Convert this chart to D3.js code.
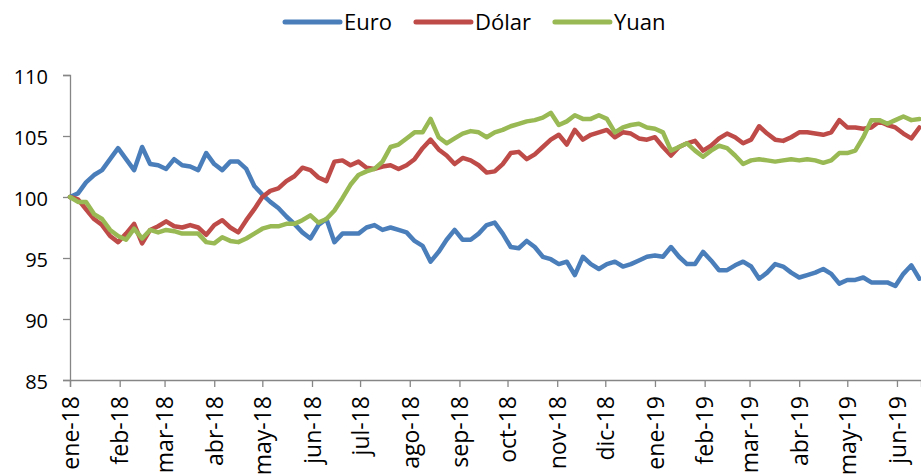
<!DOCTYPE html>
<meta charset="utf-8">
<head>
<script src="https://d3js.org/d3.v7.min.js"></script>
<style>
  body { margin: 0; background: #fff; }
  text { font-family: "Open Sans", "DejaVu Sans", sans-serif; fill: #000; }
</style>
</head>
<body>
<svg id="chart" width="921" height="474"></svg>
<script>

// series names and colours
var seriesNames = ["Euro", "Dólar", "Yuan"];
var seriesColors = ["#4a7ebb", "#be4b48", "#98b954"];

// one reading every 5 days starting 1 Jan 2018
var startDate = new Date(2018, 0, 1);
var stepDays = 5;

var euro = [
  100.0, 100.3, 101.2, 101.8, 102.2, 103.1, 104.0, 103.1, 102.2, 104.1,
  102.7, 102.6, 102.3, 103.1, 102.6, 102.5, 102.2, 103.6, 102.7, 102.2,
  102.9, 102.9, 102.3, 100.9, 100.2, 99.6, 99.1, 98.4, 97.8, 97.1,
  96.6, 97.7, 98.2, 96.3, 97.0, 97.0, 97.0, 97.5, 97.7, 97.3,
  97.5, 97.3, 97.1, 96.4, 96.0, 94.7, 95.5, 96.5, 97.3, 96.5,
  96.5, 97.0, 97.7, 97.9, 97.0, 95.9, 95.8, 96.4, 95.9, 95.1,
  94.9, 94.5, 94.7, 93.6, 95.1, 94.5, 94.1, 94.5, 94.7, 94.3,
  94.5, 94.8, 95.1, 95.2, 95.1, 95.9, 95.1, 94.5, 94.5, 95.5,
  94.8, 94.0, 94.0, 94.4, 94.7, 94.3, 93.3, 93.8, 94.5, 94.3,
  93.8, 93.4, 93.6, 93.8, 94.1, 93.7, 92.9, 93.2, 93.2, 93.4,
  93.0, 93.0, 93.0, 92.7, 93.7, 94.4, 93.3
];

var dolar = [
  100.0, 99.8, 99.0, 98.2, 97.7, 96.8, 96.3, 97.0, 97.8, 96.2,
  97.3, 97.6, 98.0, 97.6, 97.5, 97.7, 97.5, 96.9, 97.7, 98.1,
  97.5, 97.1, 98.1, 99.0, 100.0, 100.5, 100.7, 101.3, 101.7, 102.4,
  102.2, 101.6, 101.3, 102.9, 103.0, 102.6, 102.9, 102.4, 102.3, 102.5,
  102.6, 102.3, 102.6, 103.1, 104.0, 104.7, 103.9, 103.4, 102.7, 103.2,
  103.0, 102.6, 102.0, 102.1, 102.7, 103.6, 103.7, 103.1, 103.5, 104.1,
  104.7, 105.1, 104.3, 105.5, 104.7, 105.1, 105.3, 105.5, 104.9, 105.3,
  105.2, 104.8, 104.7, 104.9, 104.1, 103.4, 104.1, 104.4, 104.6, 103.8,
  104.2, 104.8, 105.2, 104.9, 104.4, 104.7, 105.8, 105.2, 104.7, 104.6,
  104.9, 105.3, 105.3, 105.2, 105.1, 105.3, 106.3, 105.7, 105.7, 105.6,
  105.7, 106.2, 105.9, 105.7, 105.2, 104.8, 105.7
];

var yuan = [
  100.0, 99.6, 99.6, 98.6, 98.2, 97.3, 96.8, 96.5, 97.4, 96.6,
  97.3, 97.1, 97.3, 97.2, 97.0, 97.0, 97.0, 96.3, 96.2, 96.7,
  96.4, 96.3, 96.6, 97.0, 97.4, 97.6, 97.6, 97.8, 97.8, 98.1,
  98.5, 97.9, 98.2, 98.9, 99.9, 101.0, 101.8, 102.1, 102.3, 102.9,
  104.1, 104.3, 104.8, 105.3, 105.3, 106.4, 104.9, 104.4, 104.8, 105.2,
  105.4, 105.3, 104.9, 105.3, 105.5, 105.8, 106.0, 106.2, 106.3, 106.5,
  106.9, 105.9, 106.2, 106.7, 106.4, 106.4, 106.7, 106.4, 105.3, 105.7,
  105.9, 106.0, 105.7, 105.6, 105.3, 103.8, 104.1, 104.4, 103.8, 103.3,
  103.8, 104.2, 104.0, 103.4, 102.7, 103.0, 103.1, 103.0, 102.9, 103.0,
  103.1, 103.0, 103.1, 103.0, 102.8, 103.0, 103.6, 103.6, 103.8, 104.9,
  106.3, 106.3, 106.0, 106.3, 106.6, 106.3, 106.4
];

// tick labels
var yTicks = [85, 90, 95, 100, 105, 110];
var monthLabels = ["ene-18", "feb-18", "mar-18", "abr-18", "may-18", "jun-18",
  "jul-18", "ago-18", "sep-18", "oct-18", "nov-18", "dic-18",
  "ene-19", "feb-19", "mar-19", "abr-19", "may-19", "jun-19"];

var svg = d3.select("#chart");

// plot area
var plotLeft = 70, plotRight = 921, plotTop = 75, plotBottom = 380;

var x = d3.scaleTime()
  .domain([startDate, new Date(2019, 5, 16)])
  .range([plotLeft, plotRight]);

var y = d3.scaleLinear()
  .domain([85, 110])
  .range([plotBottom, plotTop]);

var axisColor = "#868686";

// y axis
var yAxis = svg.append("g")
  .attr("transform", "translate(" + plotLeft + ",0)")
  .call(d3.axisLeft(y).tickValues(yTicks).tickSize(7).tickPadding(15));
yAxis.select(".domain").attr("stroke", axisColor).attr("stroke-width", 1.3);
yAxis.selectAll(".tick line").attr("stroke", axisColor).attr("stroke-width", 1.3);
yAxis.selectAll(".tick text")
  .style("font-family", "'Open Sans', sans-serif")
  .attr("font-size", "20px")
  .attr("dy", "0.40em");

// x axis, one tick per month
var monthTicks = d3.timeMonth.range(startDate, new Date(2019, 5, 2));
var xAxis = svg.append("g")
  .attr("transform", "translate(0," + plotBottom + ")")
  .call(d3.axisBottom(x).tickValues(monthTicks).tickSize(7)
    .tickFormat(function(d, i) { return monthLabels[i]; }));
xAxis.select(".domain").attr("stroke", axisColor).attr("stroke-width", 1.3);
xAxis.selectAll(".tick line").attr("stroke", axisColor).attr("stroke-width", 1.3);
xAxis.selectAll(".tick text")
  .style("font-family", "'Open Sans', sans-serif")
  .attr("font-size", "23px")
  .attr("text-anchor", "end")
  .attr("transform", "rotate(-90)")
  .attr("x", -16)
  .attr("y", 0)
  .attr("dy", "0.36em");

// lines
var allSeries = [euro, dolar, yuan];
var line = d3.line()
  .x(function(d, i) { return x(d3.timeDay.offset(startDate, i * stepDays)); })
  .y(function(d) { return y(d); });

svg.append("g")
  .selectAll("path")
  .data(allSeries)
  .enter()
  .append("path")
    .attr("d", line)
    .attr("fill", "none")
    .attr("stroke", function(d, i) { return seriesColors[i]; })
    .attr("stroke-width", 4.5)
    .attr("stroke-linejoin", "round")
    .attr("stroke-linecap", "round");

// legend
var legend = svg.append("g");
var lx = 285;
seriesNames.forEach(function(name, i) {
  legend.append("line")
    .attr("x1", lx).attr("x2", lx + 55)
    .attr("y1", 22).attr("y2", 22)
    .attr("stroke", seriesColors[i])
    .attr("stroke-width", 5)
    .attr("stroke-linecap", "round");
  var t = legend.append("text")
    .attr("x", lx + 59)
    .attr("y", 30)
    .attr("font-size", "22px")
    .text(name);
  lx = lx + 59 + t.node().getComputedTextLength() + 24;
});

</script>
</body>
